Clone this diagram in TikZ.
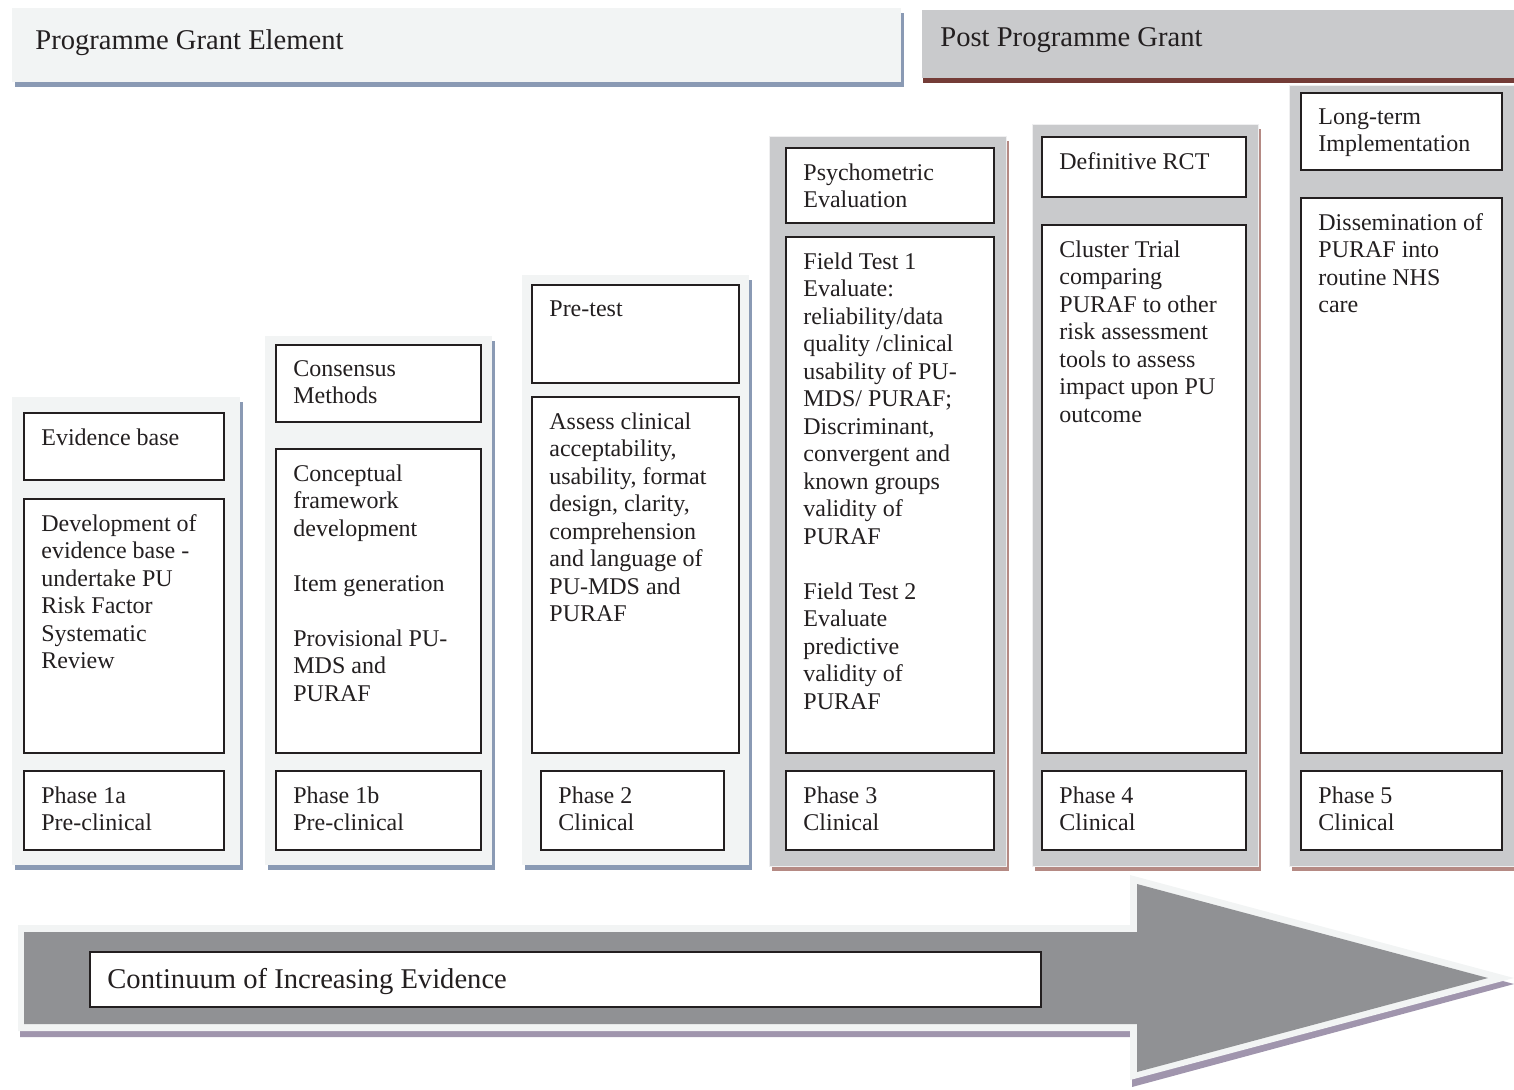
\documentclass[tikz,border=0pt]{standalone}
\usepackage{fontspec}
\setmainfont{Liberation Serif}
\usepackage{tikz}
\usetikzlibrary{shadows}
\definecolor{paleback}{HTML}{F2F4F4}
\definecolor{blueshade}{HTML}{8A9AB4}
\definecolor{greyback}{HTML}{C9CACC}
\definecolor{roseshade}{HTML}{B58A84}
\definecolor{brownband}{HTML}{743C37}
\definecolor{arrowgrey}{HTML}{909194}
\definecolor{arrowshade}{HTML}{A095AD}
\definecolor{boxline}{HTML}{231F20}

\begin{document}
\begin{tikzpicture}[x=0.5pt, y=-0.5pt,
    palepanel/.style={fill=paleback, drop shadow={shadow xshift=1.5pt, shadow yshift=-2.5pt, fill=blueshade, opacity=1}},
    greypanel/.style={fill=greyback, draw=white!70!greyback, line width=0.5pt, drop shadow={shadow xshift=1.5pt, shadow yshift=-2.5pt, fill=roseshade, opacity=1}},
    box/.style={draw=boxline, fill=white, line width=0.9pt},
    txt/.style={anchor=north west, inner sep=0pt, xshift=8.5pt, yshift=-7.5pt, align=left, text=boxline, font=\fontsize{12}{13.75}\selectfont},
    hdr/.style={anchor=west, inner sep=0pt, text=boxline, font=\fontsize{14.3}{16}\selectfont}]

    \useasboundingbox (0,0) rectangle (1514,1089);

    % Headers
    \fill[palepanel] (12,8) rectangle (901,82);
    \node[hdr] (grant) at (35,43) {Programme Grant Element};
    \fill[greyback, drop shadow={shadow xshift=0.5pt, shadow yshift=-2.5pt, fill=brownband, opacity=1}] (922,10) rectangle (1514,78);
    \node[hdr] (post) at (940,40) {Post Programme Grant};

    % Phase 1a
    \fill[palepanel] (12,397) rectangle (240,865);
    \draw[box] (24,413) rectangle (224,480);
    \node[txt] (evid) at (24,413) {Evidence base};
    \draw[box] (24,499) rectangle (224,753);
    \node[txt] (evdev) at (24,499) {Development of\\evidence base -\\undertake PU\\Risk Factor\\Systematic\\Review};
    \draw[box] (24,771) rectangle (224,850);
    \node[txt] (ph1a) at (24,771) {Phase 1a\\Pre-clinical};

    % Phase 1b
    \fill[palepanel] (265,336) rectangle (492,865);
    \draw[box] (276,345) rectangle (481,422);
    \node[txt] (cons) at (276,345) {Consensus\\Methods};
    \draw[box] (276,449) rectangle (481,753);
    \node[txt] (concept) at (276,449) {Conceptual\\framework\\development\\[13.75pt]Item generation\\[13.75pt]Provisional PU-\\MDS and\\PURAF};
    \draw[box] (276,771) rectangle (481,850);
    \node[txt] (ph1b) at (276,771) {Phase 1b\\Pre-clinical};

    % Phase 2
    \fill[palepanel] (522,275) rectangle (749,865);
    \draw[box] (532,285) rectangle (739,383);
    \node[txt] (pretest) at (532,285) {Pre-test};
    \draw[box] (532,397) rectangle (739,753);
    \node[txt] (assess) at (532,397) {Assess clinical\\acceptability,\\usability, format\\design, clarity,\\comprehension\\and language of\\PU-MDS and\\PURAF};
    \draw[box] (541,771) rectangle (724,850);
    \node[txt] (ph2) at (541,771) {Phase 2\\Clinical};

    % Phase 3
    \fill[greypanel] (769,136) rectangle (1006,866);
    \draw[box] (786,148) rectangle (994,223);
    \node[txt] (psycho) at (786,148) {Psychometric\\Evaluation};
    \draw[box] (786,237) rectangle (994,753);
    \node[txt] (field) at (786,237) {Field Test 1\\Evaluate:\\reliability/data\\quality /clinical\\usability of PU-\\MDS/ PURAF;\\Discriminant,\\convergent and\\known groups\\validity of\\PURAF\\[13.75pt]Field Test 2\\Evaluate\\predictive\\validity of\\PURAF};
    \draw[box] (786,771) rectangle (994,850);
    \node[txt] (ph3) at (786,771) {Phase 3\\Clinical};

    % Phase 4
    \fill[greypanel] (1032,124) rectangle (1258,866);
    \draw[box] (1042,137) rectangle (1246,197);
    \node[txt] (rct) at (1042,137) {Definitive RCT};
    \draw[box] (1042,225) rectangle (1246,753);
    \node[txt] (cluster) at (1042,225) {Cluster Trial\\comparing\\PURAF to other\\risk assessment\\tools to assess\\impact upon PU\\outcome};
    \draw[box] (1042,771) rectangle (1246,850);
    \node[txt] (ph4) at (1042,771) {Phase 4\\Clinical};

    % Phase 5
    \fill[greypanel] (1289,85) rectangle (1514,866);
    \draw[box] (1301,93) rectangle (1502,170);
    \node[txt] (longterm) at (1301,93) {Long-term\\Implementation};
    \draw[box] (1301,198) rectangle (1502,753);
    \node[txt] (dissem) at (1301,198) {Dissemination of\\PURAF into\\routine NHS\\care};
    \draw[box] (1301,771) rectangle (1502,850);
    \node[txt] (ph5) at (1301,771) {Phase 5\\Clinical};

    % Evidence arrow
    \fill[arrowshade] (20,931) -- (1132,931) -- (1132,881) -- (1514,984) -- (1132,1087) -- (1132,1037) -- (20,1037) -- cycle;
    \fill[paleback] (18,925) -- (1130,925) -- (1130,875) -- (1514,978) -- (1130,1080) -- (1130,1031) -- (18,1031) -- cycle;
    \fill[arrowgrey] (24,932) -- (1137,932) -- (1137,884) -- (1488,978) -- (1137,1072) -- (1137,1024) -- (24,1024) -- cycle;
    \draw[box] (90,952) rectangle (1041,1007);
    \node[hdr] (contin) at (107,981) {Continuum of Increasing Evidence};
\end{tikzpicture}
\end{document}
